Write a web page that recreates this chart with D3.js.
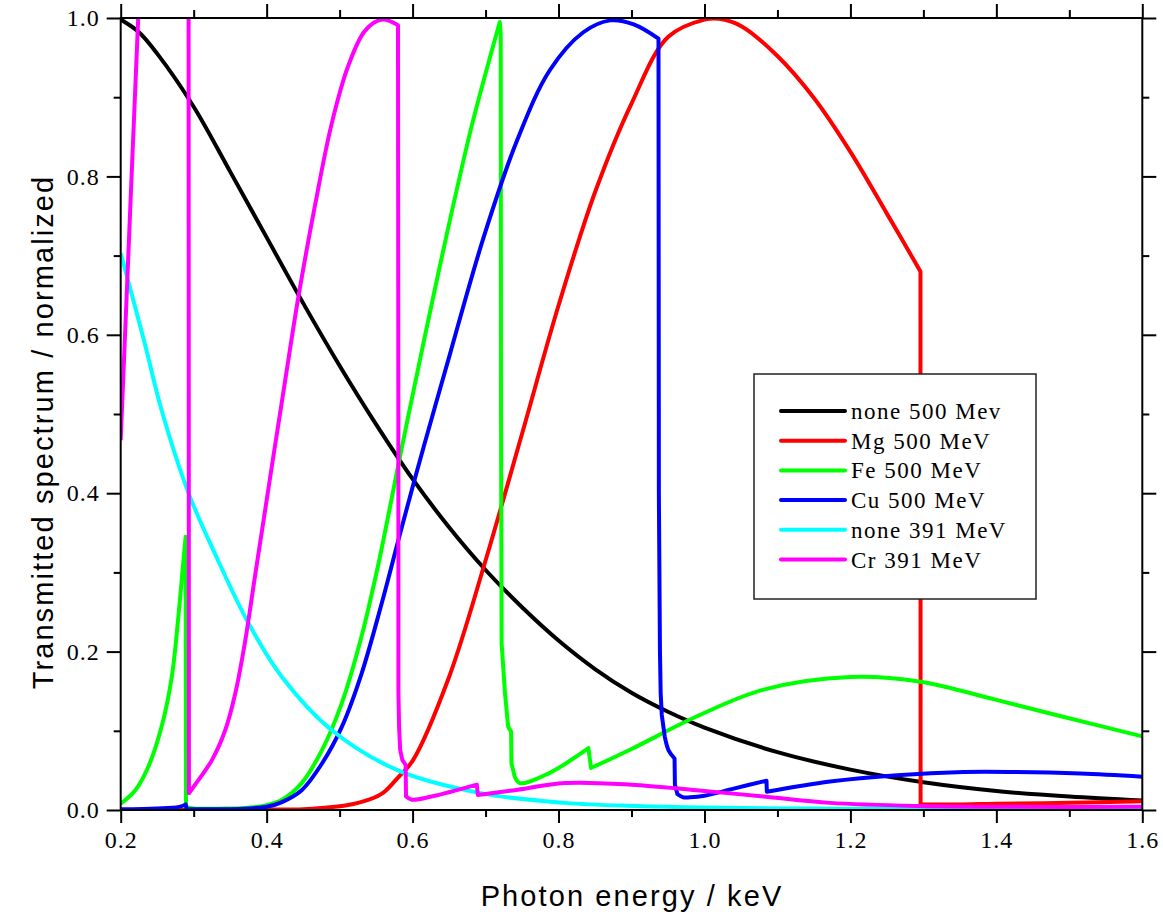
<!DOCTYPE html>
<html>
<head>
<meta charset="utf-8">
<script src="https://cdn.jsdelivr.net/npm/d3@7"></script>
<style>
  html, body { margin: 0; padding: 0; background: #fff; }
  svg { display: block; }
</style>
</head>
<body>
<svg id="chart" width="1163" height="919"></svg>
<script>
// ---------------- data ----------------
const seriesNames = ["none 500 Mev", "Mg 500 MeV", "Fe 500 MeV", "Cu 500 MeV", "none 391 MeV", "Cr 391 MeV"];
const seriesColors = ["#000000", "#ff0000", "#00ff00", "#0000ff", "#00ffff", "#ff00ff"];

const xMajorTicks = [0.2, 0.4, 0.6, 0.8, 1.0, 1.2, 1.4, 1.6];
const xMinorTicks = [0.3, 0.5, 0.7, 0.9, 1.1, 1.3, 1.5];
const yMajorTicks = [0.0, 0.2, 0.4, 0.6, 0.8, 1.0];
const yMinorTicks = [0.1, 0.3, 0.5, 0.7, 0.9];

const noneE = [0.2, 0.225, 0.25, 0.3, 0.35, 0.4, 0.45, 0.5, 0.55, 0.6, 0.65, 0.7, 0.75, 0.8, 0.85, 0.9, 0.95, 1.0, 1.1, 1.2, 1.3, 1.4, 1.5, 1.6];
const noneV = [0.998, 0.982, 0.955, 0.888, 0.806, 0.723, 0.640, 0.561, 0.487, 0.418, 0.357, 0.303, 0.256, 0.214, 0.178, 0.148, 0.124, 0.104, 0.073, 0.051, 0.035, 0.024, 0.017, 0.012];

const mgE = [0.2, 0.3, 0.4, 0.45, 0.48, 0.51, 0.54, 0.56, 0.58, 0.6, 0.65, 0.7, 0.75, 0.8, 0.85, 0.9, 0.95, 1.0, 1.02, 1.05, 1.1, 1.15, 1.2, 1.25, 1.296, 1.2962, 1.35, 1.4, 1.5, 1.6];
const mgV = [0.0, 0.0, 0.0005, 0.001, 0.003, 0.006, 0.013, 0.022, 0.041, 0.062, 0.168, 0.315, 0.475, 0.637, 0.78, 0.892, 0.976, 0.998, 0.999, 0.99, 0.952, 0.899, 0.831, 0.753, 0.68, 0.007, 0.007, 0.008, 0.009, 0.011];

const feE = [0.2, 0.22, 0.238, 0.256, 0.27, 0.279, 0.285, 0.289, 0.2895, 0.3, 0.35, 0.375, 0.4, 0.421, 0.448, 0.476, 0.503, 0.53, 0.553, 0.576, 0.594, 0.62, 0.65, 0.68, 0.70, 0.7195, 0.7208, 0.7212, 0.722, 0.7267, 0.731, 0.735, 0.7355, 0.74, 0.747, 0.786, 0.841, 0.8445, 0.9, 0.989, 1.081, 1.2, 1.296, 1.4, 1.49, 1.6];
const feV = [0.008, 0.025, 0.055, 0.105, 0.168, 0.244, 0.305, 0.345, 0.004, 0.002, 0.002, 0.003, 0.006, 0.013, 0.034, 0.076, 0.135, 0.219, 0.31, 0.415, 0.497, 0.612, 0.74, 0.86, 0.93, 0.995, 0.98, 0.5, 0.21, 0.147, 0.105, 0.099, 0.059, 0.042, 0.034, 0.046, 0.078, 0.053, 0.077, 0.118, 0.152, 0.168, 0.162, 0.139, 0.118, 0.093];

const cuE = [0.2, 0.25, 0.28, 0.289, 0.2905, 0.3, 0.35, 0.375, 0.4, 0.421, 0.448, 0.476, 0.503, 0.53, 0.558, 0.58, 0.603, 0.631, 0.651, 0.697, 0.743, 0.788, 0.834, 0.871, 0.903, 0.937, 0.9375, 0.939, 0.940, 0.9415, 0.9455, 0.951, 0.959, 0.9595, 0.963, 0.971, 0.98, 1.0, 1.04, 1.085, 1.0855, 1.172, 1.264, 1.355, 1.423, 1.515, 1.6];
const cuV = [0.001, 0.002, 0.004, 0.007, 0.001, 0.001, 0.001, 0.002, 0.004, 0.010, 0.025, 0.059, 0.105, 0.172, 0.262, 0.339, 0.418, 0.51, 0.575, 0.722, 0.845, 0.934, 0.982, 0.997, 0.992, 0.974, 0.4, 0.2, 0.147, 0.12, 0.093, 0.075, 0.065, 0.032, 0.02, 0.016, 0.016, 0.018, 0.027, 0.037, 0.023, 0.036, 0.044, 0.048, 0.048, 0.046, 0.042];

const none391E = [0.2, 0.233, 0.256, 0.293, 0.329, 0.375, 0.421, 0.489, 0.58, 0.695, 0.809, 0.905, 1.0, 1.2, 1.4, 1.6];
const none391V = [0.703, 0.589, 0.505, 0.40, 0.324, 0.236, 0.168, 0.101, 0.05, 0.021, 0.009, 0.005, 0.003, 0.0015, 0.001, 0.0005];

const crE = [0.2, 0.212, 0.224, 0.23, 0.293, 0.2935, 0.302, 0.325, 0.343, 0.357, 0.37, 0.384, 0.398, 0.411, 0.425, 0.443, 0.466, 0.489, 0.512, 0.535, 0.558, 0.58, 0.5805, 0.5806, 0.5815, 0.583, 0.586, 0.5905, 0.591, 0.599, 0.626, 0.688, 0.6895, 0.74, 0.809, 0.9, 0.989, 1.081, 1.172, 1.296, 1.4, 1.6];
const crV = [0.467, 0.735, 1.0, 1.13, 1.13, 0.021, 0.032, 0.063, 0.10, 0.147, 0.21, 0.295, 0.379, 0.457, 0.54, 0.645, 0.762, 0.866, 0.94, 0.984, 0.998, 0.991, 0.5, 0.15, 0.105, 0.076, 0.063, 0.057, 0.017, 0.013, 0.017, 0.032, 0.019, 0.025, 0.034, 0.032, 0.025, 0.017, 0.009, 0.005, 0.004, 0.004];

const seriesE = [noneE, mgE, feE, cuE, none391E, crE];
const seriesV = [noneV, mgV, feV, cuV, none391V, crV];

const xTitle = "Photon energy / keV";
const yTitle = "Transmitted spectrum / normalized";

// ---------------- drawing ----------------
const svg = d3.select("#chart");
const pLeft = 120.7, pRight = 1142.3, pTop = 18, pBottom = 810;
const x = d3.scaleLinear().domain([0.2, 1.6]).range([pLeft, pRight]);
const y = d3.scaleLinear().domain([0, 1]).range([pBottom, pTop]);

svg.append("defs").append("clipPath").attr("id", "plotclip")
  .append("rect").attr("x", pLeft).attr("y", pTop - 1).attr("width", pRight - pLeft).attr("height", pBottom - pTop + 2);

// smooth curve inside each run; absorption edges (nearly equal energies) drawn straight
const smooth = d3.line().x(d => x(d[0])).y(d => y(d[1])).curve(d3.curveCatmullRom.alpha(0.5));
function buildPath(pts) {
  const runs = [];
  let cur = [pts[0]];
  for (let k = 1; k < pts.length; k++) {
    if (pts[k][0] - pts[k - 1][0] < 0.005) { runs.push(cur); cur = [pts[k]]; }
    else cur.push(pts[k]);
  }
  runs.push(cur);
  let d = "";
  runs.forEach((r, i) => {
    let s = smooth(r).replace(/Z/g, "");
    if (i > 0) s = "L" + s.slice(1);
    d += s;
  });
  return d;
}

const plot = svg.append("g").attr("clip-path", "url(#plotclip)");
seriesNames.forEach((name, i) => {
  const pts = seriesE[i].map((e, k) => [e, seriesV[i][k]]);
  plot.append("path")
    .attr("d", buildPath(pts))
    .attr("fill", "none")
    .attr("stroke", seriesColors[i])
    .attr("stroke-width", 4)
    .attr("stroke-linejoin", "round");
});

// axes
const serif = "'Liberation Serif', 'Times New Roman', serif";
function styleAxis(g) {
  g.select(".domain").remove();
  g.selectAll(".tick line").attr("stroke", "#000").attr("stroke-width", 2);
  g.selectAll(".tick text").attr("fill", "#000").attr("font-family", serif).attr("font-size", 24).attr("letter-spacing", 1);
}
const fmt = d3.format(".1f");

svg.append("g").attr("transform", `translate(0,${pBottom})`)
  .call(d3.axisBottom(x).tickValues(xMajorTicks).tickSize(13).tickPadding(8).tickFormat(fmt))
  .call(styleAxis);
svg.append("g").attr("transform", `translate(0,${pBottom})`)
  .call(d3.axisBottom(x).tickValues(xMinorTicks).tickSize(7).tickFormat(""))
  .call(styleAxis);
svg.append("g").attr("transform", `translate(0,${pTop})`)
  .call(d3.axisTop(x).tickValues(xMajorTicks).tickSize(14).tickFormat(""))
  .call(styleAxis);
svg.append("g").attr("transform", `translate(0,${pTop})`)
  .call(d3.axisTop(x).tickValues(xMinorTicks).tickSize(8).tickFormat(""))
  .call(styleAxis);
svg.append("g").attr("transform", `translate(${pLeft},0)`)
  .call(d3.axisLeft(y).tickValues(yMajorTicks).tickSize(14).tickPadding(7).tickFormat(fmt))
  .call(styleAxis);
svg.append("g").attr("transform", `translate(${pLeft},0)`)
  .call(d3.axisLeft(y).tickValues(yMinorTicks).tickSize(7).tickFormat(""))
  .call(styleAxis);
svg.append("g").attr("transform", `translate(${pRight},0)`)
  .call(d3.axisRight(y).tickValues(yMajorTicks).tickSize(14).tickFormat(""))
  .call(styleAxis);
svg.append("g").attr("transform", `translate(${pRight},0)`)
  .call(d3.axisRight(y).tickValues(yMinorTicks).tickSize(7).tickFormat(""))
  .call(styleAxis);

// frame
svg.append("rect").attr("x", pLeft).attr("y", pTop).attr("width", pRight - pLeft).attr("height", pBottom - pTop)
  .attr("fill", "none").attr("stroke", "#000").attr("stroke-width", 2);

// titles
const sans = "'Liberation Sans', Arial, sans-serif";
svg.append("text").attr("x", 632).attr("y", 906).attr("text-anchor", "middle")
  .attr("font-family", sans).attr("font-size", 29).attr("letter-spacing", 2.1).text(xTitle);
svg.append("text").attr("transform", "translate(53,432) rotate(-90)").attr("text-anchor", "middle")
  .attr("font-family", sans).attr("font-size", 29).attr("letter-spacing", 2.1).text(yTitle);

// legend
const lg = svg.append("g");
lg.append("rect").attr("x", 754).attr("y", 374).attr("width", 282).attr("height", 225)
  .attr("fill", "#fff").attr("stroke", "#222").attr("stroke-width", 1.5);
seriesNames.forEach((name, i) => {
  const yy = 411 + i * 29.7;
  lg.append("line").attr("x1", 781).attr("x2", 845).attr("y1", yy).attr("y2", yy)
    .attr("stroke", seriesColors[i]).attr("stroke-width", 4).attr("stroke-linecap", "round");
  lg.append("text").attr("x", 851).attr("y", yy + 8)
    .attr("font-family", serif).attr("font-size", 23).attr("letter-spacing", 1.5).text(name);
});
</script>
</body>
</html>
